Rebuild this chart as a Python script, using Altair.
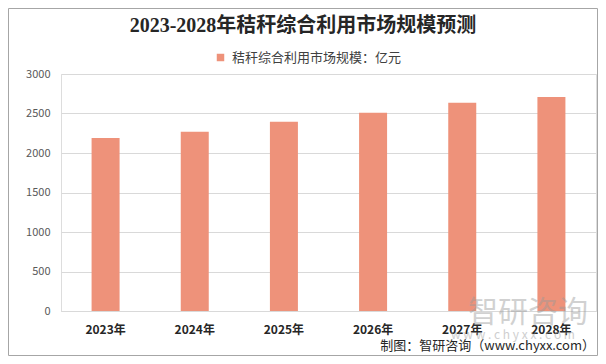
import altair as alt
import pandas as pd

years = ["2023年", "2024年", "2025年", "2026年", "2027年", "2028年"]
values = [2190, 2270, 2395, 2510, 2635, 2710]
series_name = "秸秆综合利用市场规模：亿元"
y_ticks = [0, 500, 1000, 1500, 2000, 2500, 3000]
title_text = "2023-2028年秸秆综合利用市场规模预测"
source_text = "制图：智研咨询（www.chyxx.com）"
watermark_cn = "智研咨询"
watermark_url = "w w w . c h y x x . c o m"

FONT = "'Noto Sans CJK SC', 'Noto Sans', sans-serif"
TITLE_FONT = "'Liberation Serif', 'Noto Sans CJK SC', serif"

W, H = 535, 237
PAD_L, PAD_T = 53, 66

df = pd.DataFrame({"year": years, "value": values, "series": [series_name] * len(years)})

bars = alt.Chart(df).mark_bar(size=28).encode(
    x=alt.X(
        "year:N",
        sort=years,
        title=None,
        scale=alt.Scale(paddingInner=0.686, paddingOuter=0.343),
        axis=alt.Axis(
            labelAngle=0,
            labelFont=FONT,
            labelFontSize=12,
            labelFontWeight="bold",
            labelColor="#262626",
            labelBaseline="middle",
            labelPadding=18,
            ticks=False,
            domainColor="#d9d9d9",
            domainWidth=1,
            grid=False,
        ),
    ),
    y=alt.Y(
        "value:Q",
        title=None,
        scale=alt.Scale(domain=[0, 3000]),
        axis=alt.Axis(
            values=y_ticks,
            format="d",
            labelFont=FONT,
            labelFontSize=11,
            labelColor="#595959",
            labelPadding=11,
            ticks=False,
            domain=False,
            gridColor="#d9d9d9",
            gridWidth=1,
        ),
    ),
    color=alt.Color(
        "series:N",
        scale=alt.Scale(range=["#EE927A"]),
        legend=alt.Legend(
            title=None,
            orient="none",
            legendX=153,
            legendY=-23,
            symbolType="square",
            symbolSize=56,
            symbolStrokeWidth=0,
            labelFont=FONT,
            labelFontSize=13,
            labelColor="#404040",
            labelOffset=5,
            labelLimit=0,
            padding=0,
        ),
    ),
)

title = alt.Chart(pd.DataFrame({"t": [title_text]})).mark_text(
    align="center", baseline="middle", font=TITLE_FONT, fontSize=20, fontWeight="bold", color="#262626"
).encode(text="t:N", x=alt.value(295 - PAD_L), y=alt.value(18 - PAD_T))

source = alt.Chart(pd.DataFrame({"t": [source_text]})).mark_text(
    align="right", baseline="middle", font=FONT, fontSize=13, color="#262626"
).encode(text="t:N", x=alt.value(587 - PAD_L), y=alt.value(338 - PAD_T))

wm1 = alt.Chart(pd.DataFrame({"t": [watermark_cn]})).mark_text(
    align="center", baseline="middle", font=FONT, fontSize=30, color="#9a9a9a", opacity=0.45
).encode(text="t:N", x=alt.value(520 - PAD_L), y=alt.value(305 - PAD_T))

wm2 = alt.Chart(pd.DataFrame({"t": [watermark_url]})).mark_text(
    align="center", baseline="middle", font=FONT, fontSize=12, color="#a0a0a0", opacity=0.5
).encode(text="t:N", x=alt.value(505 - PAD_L), y=alt.value(327 - PAD_T))

border = alt.Chart(pd.DataFrame({"a": [0]})).mark_rect(
    fill="transparent", stroke="#a6a6a6", strokeWidth=1
).encode(
    x=alt.value(0.5 - PAD_L),
    x2=alt.value(589.5 - PAD_L),
    y=alt.value(0.5 - PAD_T),
    y2=alt.value(347.5 - PAD_T),
)

chart = alt.layer(bars, wm1, wm2, title, source, border).properties(
    width=W,
    height=H,
    padding={"left": PAD_L, "top": PAD_T, "right": 590 - PAD_L - W, "bottom": 348 - PAD_T - H},
    autosize=alt.AutoSizeParams(type="none"),
).configure_view(stroke=None).configure(background="white")

chart.save("out.html", embed_options={"renderer": "svg", "actions": False})
